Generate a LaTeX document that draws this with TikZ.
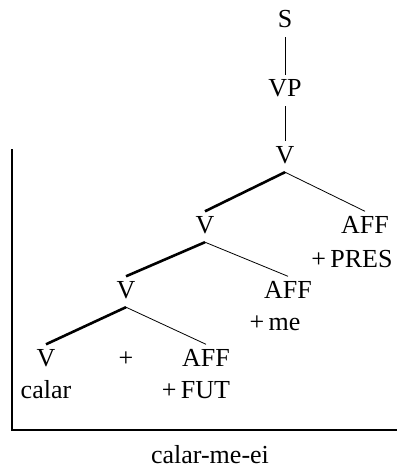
\documentclass[tikz,border=0pt]{standalone}
\usepackage{fontspec}
\setmainfont{Liberation Serif}
\usepackage{tikz}

\begin{document}
\begin{tikzpicture}[
  x=1pt,y=-1pt,
  every node/.style={font=\fontsize{26}{31}\selectfont},
  lbl/.style={anchor=base,inner xsep=0pt,inner ysep=4pt,text height=17.5pt,text depth=5pt},
  plain/.style={anchor=base,inner sep=0pt},
  thinedge/.style={draw=black,line width=0.8pt},
  headedge/.style={draw=black,line width=2.6pt},
  frameline/.style={draw=black,line width=1.2pt},
]
\useasboundingbox (0,0) rectangle (397,468);

% spine
\node[lbl] (s) at (285,28) {S};
\node[lbl] (vp) at (285,97) {VP};
\node[lbl] (vtop) at (285,163) {V};

% first split
\node[lbl] (vmid) at (205,233) {V};
\node[lbl] (affpres) at (365,233) {AFF};
\node[plain] (pres) at (352,267) {+\,PRES};

% second split
\node[lbl] (vlow) at (126,298) {V};
\node[lbl] (affme) at (288,298) {AFF};
\node[plain] (me) at (275,330) {+\,me};

% bottom row
\node[lbl] (vroot) at (46,366) {V};
\node[plain] (plus) at (126,366) {+};
\node[lbl] (afffut) at (206,366) {AFF};
\node[plain] (calar) at (46,398) {calar};
\node[plain] (fut) at (196,398) {+\,FUT};

\draw[thinedge] (s.south) -- (vp.north);
\draw[thinedge] (vp.south) -- (vtop.north);
\draw[headedge] (vtop.south) -- (vmid.north);
\draw[thinedge] (vtop.south) -- (affpres.north);
\draw[headedge] (vmid.south) -- (vlow.north);
\draw[thinedge] (vmid.south) -- (affme.north);
\draw[headedge] (vlow.south) -- (vroot.north);
\draw[thinedge] (vlow.south) -- (afffut.north);

% frame and output form
\coordinate (ftop) at (12,149);
\coordinate (fcorner) at (12,430);
\coordinate (fend) at (397,430);
\draw[frameline] (ftop) -- (fcorner) -- (fend);
\node[plain] (form) at (210,463) {calar-me-ei};
\end{tikzpicture}
\end{document}
